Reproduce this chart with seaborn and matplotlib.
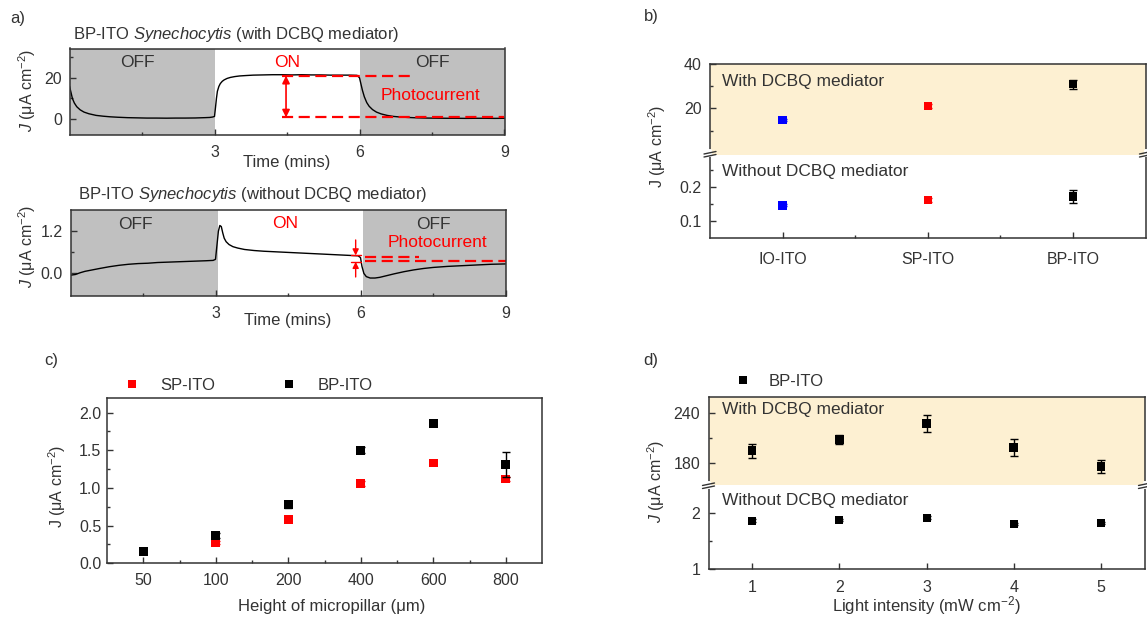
import numpy as np
import pandas as pd
import matplotlib
matplotlib.use("Agg")
import matplotlib.pyplot as plt
from matplotlib.lines import Line2D
import seaborn as sns

# ---------------- data ----------------
# panel a (top): BP-ITO Synechocytis with DCBQ mediator, chronoamperometry trace
time_with = [0.00, 0.03, 0.06, 0.10, 0.15, 0.22, 0.30, 0.40, 0.55, 0.70, 0.85, 1.00,
             1.20, 1.40, 1.60, 1.80, 2.00, 2.20, 2.40, 2.60, 2.80, 2.90, 2.96, 3.00,
             3.02, 3.04, 3.06, 3.09, 3.12, 3.16, 3.20, 3.26, 3.33, 3.42, 3.52, 3.65,
             3.80, 4.00, 4.20, 4.40, 4.60, 4.80, 5.00, 5.20, 5.40, 5.60, 5.80, 5.95,
             6.00, 6.03, 6.06, 6.10, 6.15, 6.20, 6.27, 6.35, 6.45, 6.57, 6.70, 6.85,
             7.00, 7.20, 7.40, 7.60, 7.80, 8.00, 8.20, 8.40, 8.60, 8.80, 9.00]
J_with = [16.0, 13.0, 10.0, 7.8, 6.0, 4.5, 3.4, 2.6, 1.8, 1.4, 1.1, 0.9,
          0.7, 0.6, 0.5, 0.5, 0.45, 0.5, 0.5, 0.55, 0.7, 0.8, 1.0, 1.3,
          5.5, 10.0, 13.5, 15.8, 17.2, 18.3, 19.0, 19.7, 20.2, 20.6, 20.9, 21.1,
          21.3, 21.4, 21.5, 21.5, 21.4, 21.5, 21.4, 21.4, 21.3, 21.3, 21.3, 21.2,
          20.0, 17.0, 14.0, 10.8, 8.0, 6.2, 4.6, 3.4, 2.5, 1.8, 1.3, 1.0,
          0.8, 0.6, 0.5, 0.45, 0.4, 0.4, 0.35, 0.4, 0.4, 0.35, 0.4]

# panel a (bottom): without DCBQ mediator
time_without = [0.00, 0.10, 0.20, 0.30, 0.45, 0.60, 0.80, 1.00, 1.20, 1.40, 1.60, 1.80,
                2.00, 2.20, 2.40, 2.60, 2.80, 2.95, 3.00, 3.03, 3.06, 3.09, 3.12, 3.15,
                3.18, 3.22, 3.28, 3.36, 3.46, 3.60, 3.80, 4.00, 4.30, 4.60, 4.90, 5.20,
                5.50, 5.80, 5.95, 6.00, 6.03, 6.07, 6.12, 6.20, 6.30, 6.40, 6.55, 6.70,
                6.90, 7.10, 7.30, 7.50, 7.80, 8.10, 8.40, 8.70, 9.00]
J_without = [-0.05, -0.03, 0.02, 0.06, 0.10, 0.14, 0.19, 0.23, 0.26, 0.28, 0.29, 0.31,
             0.32, 0.33, 0.34, 0.35, 0.36, 0.37, 0.40, 0.80, 1.20, 1.36, 1.33, 1.15,
             1.00, 0.90, 0.82, 0.76, 0.72, 0.68, 0.65, 0.63, 0.61, 0.59, 0.57, 0.55,
             0.53, 0.51, 0.50, 0.45, 0.20, 0.00, -0.09, -0.13, -0.13, -0.11, -0.06, -0.01,
             0.05, 0.10, 0.14, 0.17, 0.20, 0.22, 0.24, 0.26, 0.27]

# panel b
electrodes = ["IO-ITO", "SP-ITO", "BP-ITO"]
electrode_colors = ["#0000FF", "#FF0000", "#000000"]
J_b_with = [14.8, 21.0, 30.8]
J_b_with_err = [0.4, 1.0, 2.0]
J_b_without = [0.145, 0.161, 0.171]
J_b_without_err = [0.003, 0.007, 0.02]

# panel c
heights = ["50", "100", "200", "400", "600", "800"]
J_c_sp = [0.15, 0.28, 0.58, 1.06, 1.33, 1.12]
J_c_sp_err = [0.02, 0.02, 0.03, 0.03, 0.03, 0.03]
J_c_bp = [0.16, 0.37, 0.78, 1.50, 1.86, 1.31]
J_c_bp_err = [0.02, 0.03, 0.04, 0.04, 0.04, 0.17]

# panel d
intensity = [1, 2, 3, 4, 5]
J_d_with = [195, 208, 227, 199, 176]
J_d_with_err = [8.5, 5.5, 10, 10, 7.5]
J_d_without = [1.87, 1.88, 1.92, 1.81, 1.82]
J_d_without_err = [0.02, 0.02, 0.03, 0.02, 0.02]

# ---------------- style ----------------
sns.set_theme(style="ticks")
plt.rcParams["font.family"] = ["Liberation Sans", "DejaVu Sans"]
plt.rcParams.update({
    "mathtext.fontset": "custom",
    "mathtext.rm": "Liberation Sans",
    "mathtext.it": "Liberation Sans:italic",
    "mathtext.bf": "Liberation Sans:bold",
    "axes.edgecolor": "#333333",
    "axes.linewidth": 1.1,
    "xtick.direction": "in", "ytick.direction": "in",
    "xtick.color": "#333333", "ytick.color": "#333333",
    "xtick.major.size": 4, "ytick.major.size": 4,
    "xtick.minor.size": 2.5, "ytick.minor.size": 2.5,
    "xtick.major.width": 1.0, "ytick.major.width": 1.0,
    "xtick.minor.width": 1.0, "ytick.minor.width": 1.0,
    "text.color": "#333333",
    "axes.facecolor": "white",
})

RED = "#FF0000"
GRAY = "#C0C0C0"
SHADE = "#FDF0D2"
TXT = "#333333"
TICK = 11.5
ANN = 12.5

W, H = 1147, 619
fig = plt.figure(figsize=(W / 100, H / 100), dpi=100)


def add_ax(l, t, r, b, **kw):
    return fig.add_axes([l / W, 1 - b / H, (r - l) / W, (b - t) / H], **kw)


def ftext(x, y, s, **kw):
    return fig.text(x / W, 1 - y / H, s, **kw)


def style_ticks(ax, xpad=6, ypad=5.5):
    ax.tick_params(axis="x", which="both", labelsize=TICK, pad=xpad, labelcolor=TXT,
                   top=False)
    ax.tick_params(axis="y", which="both", labelsize=TICK, pad=ypad, labelcolor=TXT,
                   right=False)
    ax.set_xlabel("")
    ax.set_ylabel("")


def draw_break(xp, yp):
    # white gap on the spine plus two slanted strokes
    fig.add_artist(Line2D([xp / W, xp / W], [1 - (yp - 1.5) / H, 1 - (yp + 2.5) / H],
                          transform=fig.transFigure, color="white", lw=3, zorder=10))
    for dy in (0.0, 3.0):
        fig.add_artist(Line2D([(xp - 6) / W, (xp + 6) / W],
                              [1 - (yp + 1.5 + dy) / H, 1 - (yp - 1.0 + dy) / H],
                              transform=fig.transFigure, color=TXT, lw=1.0, zorder=11))


ylab_it = r"$J$ ($\mathrm{\mu}$A cm$^{-2}$)"
ylab_rm = r"J ($\mathrm{\mu}$A cm$^{-2}$)"
ylab_it = "$J$ (μA cm$^{-2}$)"
ylab_rm = "J (μA cm$^{-2}$)"

# ---------------- panel a top ----------------
axa1 = add_ax(69.5, 48.5, 504.5, 135)
axa1.axvspan(0, 3, color=GRAY, lw=0, zorder=0)
axa1.axvspan(6, 9, color=GRAY, lw=0, zorder=0)
sns.lineplot(x=time_with, y=J_with, ax=axa1, color="black", lw=1.0,
             estimator=None, sort=False)
axa1.set_xlim(0, 9)
axa1.set_ylim(-7.7, 34.2)
axa1.set_xticks([3, 6, 9])
axa1.set_xticks([1.5, 4.5, 7.5], minor=True)
axa1.set_yticks([0, 20])
axa1.set_yticks([10, 30], minor=True)
style_ticks(axa1, xpad=7)
axa1.text(1.4, 27.5, "OFF", ha="center", va="center", fontsize=ANN, color=TXT)
axa1.text(4.5, 27.5, "ON", ha="center", va="center", fontsize=ANN, color=RED)
axa1.text(7.5, 27.5, "OFF", ha="center", va="center", fontsize=ANN, color=TXT)
axa1.text(7.46, 11.6, "Photocurrent", ha="center", va="center", fontsize=ANN, color=RED)
axa1.plot([4.4, 7.15], [21.0, 21.0], color=RED, lw=1.6, ls=(0, (5, 2.5)))
axa1.plot([4.4, 9.0], [0.8, 0.8], color=RED, lw=1.6, ls=(0, (5, 2.5)), clip_on=False)
axa1.annotate("", xy=(4.48, 21.0), xytext=(4.48, 0.8),
              arrowprops=dict(arrowstyle="<|-|>", color=RED, lw=1.2,
                              mutation_scale=11, shrinkA=0, shrinkB=0))
ftext(73, 35, r"BP-ITO $\mathit{Synechocytis}$ (with DCBQ mediator)",
      fontsize=12, va="center", ha="left", color=TXT)
ftext(287, 163, "Time (mins)", fontsize=12, ha="center", va="center", color=TXT)
ftext(27, 90, ylab_it, rotation=90, fontsize=11.5, ha="center", va="center", color=TXT)
ftext(10, 19, "a)", fontsize=12, ha="left", va="center", color=TXT)

# ---------------- panel a bottom ----------------
axa2 = add_ax(70.5, 210, 505.5, 296)
axa2.axvspan(0, 3.06, color=GRAY, lw=0, zorder=0)
axa2.axvspan(6.06, 9, color=GRAY, lw=0, zorder=0)
sns.lineplot(x=time_without, y=J_without, ax=axa2, color="black", lw=1.0,
             estimator=None, sort=False)
axa2.set_xlim(0, 9)
axa2.set_ylim(-0.64, 1.8)
axa2.set_xticks([3, 6, 9])
axa2.set_xticks([1.5, 4.5, 7.5], minor=True)
axa2.set_yticks([0.0, 1.2])
axa2.set_yticklabels(["0.0", "1.2"])
axa2.set_yticks([0.6], minor=True)
style_ticks(axa2, xpad=7)
axa2.text(1.35, 1.38, "OFF", ha="center", va="center", fontsize=ANN, color=TXT)
axa2.text(4.45, 1.42, "ON", ha="center", va="center", fontsize=ANN, color=RED)
axa2.text(7.5, 1.38, "OFF", ha="center", va="center", fontsize=ANN, color=TXT)
axa2.text(7.6, 0.87, "Photocurrent", ha="center", va="center", fontsize=ANN, color=RED)
axa2.plot([6.1, 7.2], [0.48, 0.48], color=RED, lw=1.6, ls=(0, (5, 2.5)))
axa2.plot([6.1, 9.0], [0.35, 0.35], color=RED, lw=1.6, ls=(0, (5, 2.5)), clip_on=False)
axa2.annotate("", xy=(5.9, 0.51), xytext=(5.9, 0.95),
              arrowprops=dict(arrowstyle="-|>", color=RED, lw=1.0,
                              mutation_scale=9, shrinkA=0, shrinkB=0))
axa2.annotate("", xy=(5.9, 0.33), xytext=(5.9, -0.1),
              arrowprops=dict(arrowstyle="-|>", color=RED, lw=1.0,
                              mutation_scale=9, shrinkA=0, shrinkB=0))
axa2.plot([5.8, 6.0], [0.51, 0.51], color=RED, lw=1.0)
axa2.plot([5.8, 6.0], [0.33, 0.33], color=RED, lw=1.0)
ftext(77.5, 195, r"BP-ITO $\mathit{Synechocytis}$ (without DCBQ mediator)",
      fontsize=12, va="center", ha="left", color=TXT)
ftext(288, 320, "Time (mins)", fontsize=12, ha="center", va="center", color=TXT)
ftext(27, 246, ylab_it, rotation=90, fontsize=11.5, ha="center", va="center", color=TXT)

# ---------------- panel b ----------------
axb_up = add_ax(710, 63.5, 1145.5, 154.5)
axb_lo = add_ax(710, 154.5, 1145.5, 237.7, sharex=axb_up)
axb_up.set_facecolor(SHADE)
for ax, vals, errs in ((axb_up, J_b_with, J_b_with_err),
                       (axb_lo, J_b_without, J_b_without_err)):
    sns.scatterplot(x=electrodes, y=vals, hue=electrodes, palette=electrode_colors,
                    marker="s", s=36, linewidth=0, legend=False, ax=ax, zorder=3)
    for cat, v, e, c in zip(electrodes, vals, errs, electrode_colors):
        ax.errorbar([cat], [v], yerr=[e], fmt="none", ecolor=c, elinewidth=1.0,
                    capsize=3, capthick=1.0, zorder=2)
axb_up.set_ylim(-0.5, 40)
axb_up.set_yticks([20, 40])
axb_up.set_yticks([10, 30], minor=True)
axb_lo.set_ylim(0.05, 0.295)
axb_lo.set_yticks([0.1, 0.2])
axb_lo.set_yticks([0.15, 0.25], minor=True)
axb_lo.set_xlim(-0.5, 2.5)
axb_lo.set_xticks([0.5, 1.5], minor=True)
style_ticks(axb_up, ypad=6)
style_ticks(axb_lo, xpad=10.5, ypad=6)
axb_up.tick_params(axis="x", which="both", bottom=False, labelbottom=False)
axb_up.spines["bottom"].set_visible(False)
axb_lo.spines["top"].set_visible(False)
axb_up.text(0.027, 0.80, "With DCBQ mediator", transform=axb_up.transAxes,
            fontsize=ANN, ha="left", va="center", color=TXT)
axb_lo.text(0.027, 0.80, "Without DCBQ mediator", transform=axb_lo.transAxes,
            fontsize=ANN, ha="left", va="center", color=TXT)
draw_break(710, 152.5)
draw_break(1145.5, 152.5)
ftext(657.5, 146, ylab_rm, rotation=90, fontsize=11.5, ha="center", va="center", color=TXT)
ftext(643.5, 17, "b)", fontsize=12, ha="left", va="center", color=TXT)

# ---------------- panel c ----------------
axc = add_ax(107, 397.5, 542, 563.3)
dfc = pd.DataFrame({
    "height": heights + heights,
    "J": J_c_sp + J_c_bp,
    "series": ["SP-ITO"] * len(heights) + ["BP-ITO"] * len(heights),
})
sns.scatterplot(data=dfc, x="height", y="J", hue="series",
                hue_order=["SP-ITO", "BP-ITO"], palette=[RED, "#000000"],
                marker="s", s=40, linewidth=0, ax=axc, zorder=3)
axc.errorbar(heights, J_c_sp, yerr=J_c_sp_err, fmt="none", ecolor=RED,
             elinewidth=1.0, capsize=3, capthick=1.0, zorder=2)
axc.errorbar(heights, J_c_bp, yerr=J_c_bp_err, fmt="none", ecolor="black",
             elinewidth=1.0, capsize=3, capthick=1.0, zorder=4)
axc.set_xlim(-0.5, 5.5)
axc.set_ylim(0, 2.2)
axc.set_yticks([0.0, 0.5, 1.0, 1.5, 2.0])
axc.set_yticklabels(["0.0", "0.5", "1.0", "1.5", "2.0"])
axc.set_yticks([0.25, 0.75, 1.25, 1.75], minor=True)
axc.set_xticks([0.5, 1.5, 2.5, 3.5, 4.5], minor=True)
style_ticks(axc, xpad=7, ypad=4)
sns.move_legend(axc, "center left", bbox_to_anchor=(0.039, 1.071), ncol=2, title=None,
                frameon=False, handlelength=1.0, handletextpad=1.2, columnspacing=3.9,
                fontsize=12, borderpad=0, borderaxespad=0)
ftext(332, 606, "Height of micropillar (μm)", fontsize=12, ha="center", va="center",
      color=TXT)
ftext(57, 486, ylab_rm, rotation=90, fontsize=11.5, ha="center", va="center", color=TXT)
ftext(44.5, 361, "c)", fontsize=12, ha="left", va="center", color=TXT)

# ---------------- panel d ----------------
axd_up = add_ax(708.5, 397.3, 1144.5, 485)
axd_lo = add_ax(708.5, 485, 1144.5, 569.3, sharex=axd_up)
axd_up.set_facecolor(SHADE)
dfd_with = pd.DataFrame({"I": intensity, "J": J_d_with, "series": "BP-ITO"})
dfd_without = pd.DataFrame({"I": intensity, "J": J_d_without, "series": "BP-ITO"})
sns.scatterplot(data=dfd_with, x="I", y="J", hue="series", palette=["#000000"],
                marker="s", s=40, linewidth=0, ax=axd_up, zorder=3)
sns.scatterplot(data=dfd_without, x="I", y="J", color="black", marker="s", s=40,
                linewidth=0, ax=axd_lo, zorder=3, legend=False)
axd_up.errorbar(intensity, J_d_with, yerr=J_d_with_err, fmt="none", ecolor="black",
                elinewidth=1.0, capsize=3, capthick=1.0, zorder=2)
axd_lo.errorbar(intensity, J_d_without, yerr=J_d_without_err, fmt="none",
                ecolor="black", elinewidth=1.0, capsize=3, capthick=1.0, zorder=2)
axd_up.set_ylim(154.3, 258.3)
axd_up.set_yticks([180, 240])
axd_up.set_yticks([210], minor=True)
axd_lo.set_ylim(1, 2.505)
axd_lo.set_yticks([1, 2])
axd_lo.set_yticks([1.5], minor=True)
axd_lo.set_xlim(0.5, 5.5)
axd_lo.set_xticks([1, 2, 3, 4, 5])
style_ticks(axd_up, ypad=6)
style_ticks(axd_lo, xpad=7.5, ypad=6)
axd_up.tick_params(axis="x", which="both", bottom=False, labelbottom=False)
axd_up.spines["bottom"].set_visible(False)
axd_lo.spines["top"].set_visible(False)
axd_up.text(0.031, 0.86, "With DCBQ mediator", transform=axd_up.transAxes,
            fontsize=ANN, ha="left", va="center", color=TXT)
axd_lo.text(0.031, 0.82, "Without DCBQ mediator", transform=axd_lo.transAxes,
            fontsize=ANN, ha="left", va="center", color=TXT)
sns.move_legend(axd_up, "center left", bbox_to_anchor=(0.061, 1.178), title=None,
                frameon=False, handlelength=1.0, handletextpad=1.0,
                fontsize=12, borderpad=0, borderaxespad=0)
draw_break(708.5, 484)
draw_break(1144.5, 484)
ftext(926, 606, "Light intensity (mW cm$^{-2}$)", fontsize=12, ha="center", va="center",
      color=TXT)
ftext(655.8, 481, ylab_it, rotation=90, fontsize=11.5, ha="center", va="center", color=TXT)
ftext(643.5, 361, "d)", fontsize=12, ha="left", va="center", color=TXT)

fig.savefig("out.png", dpi=100)
